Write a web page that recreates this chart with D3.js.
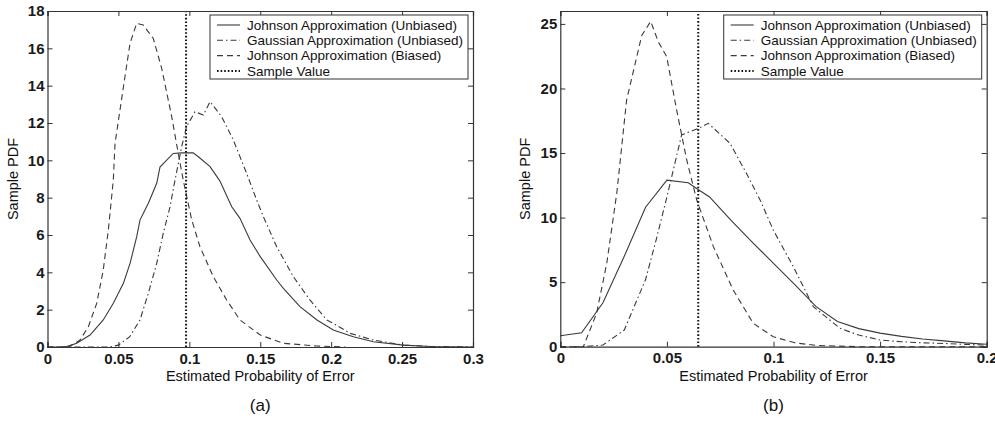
<!DOCTYPE html>
<html>
<head>
<meta charset="utf-8">
<script src="https://cdn.jsdelivr.net/npm/d3@7"></script>
<style>
  body { margin: 0; background: #fff; }
  svg { display: block; font-family: "Liberation Sans", Arial, Helvetica, sans-serif; }
</style>
</head>
<body>
<svg id="chart" width="995" height="431"></svg>
<script>
// ---- data ----
// panel (a)
var aJohnsonX = [0, 0.01, 0.0135, 0.0206, 0.03, 0.0393, 0.0464, 0.0535, 0.0582, 0.0629, 0.0652, 0.0711, 0.077, 0.0793, 0.0886, 0.0945, 0.1027, 0.107, 0.1146, 0.1215, 0.1299, 0.1357, 0.1428, 0.15, 0.1616, 0.1663, 0.178, 0.19, 0.2015, 0.2156, 0.2297, 0.251, 0.27, 0.3];
var aJohnsonY = [0, 0, 0.02, 0.2, 0.64, 1.45, 2.34, 3.41, 4.48, 5.91, 6.8, 7.7, 8.77, 9.64, 10.37, 10.4, 10.4, 10.15, 9.66, 8.9, 7.51, 6.89, 5.73, 4.84, 3.59, 3.14, 2.16, 1.45, 0.91, 0.55, 0.28, 0.1, 0.03, 0];
var aGaussX = [0, 0.044, 0.05, 0.058, 0.0652, 0.0711, 0.077, 0.0816, 0.0864, 0.0899, 0.0946, 0.098, 0.104, 0.1099, 0.1146, 0.1228, 0.131, 0.1404, 0.1475, 0.1522, 0.1616, 0.1733, 0.185, 0.1969, 0.2015, 0.2134, 0.2297, 0.251, 0.27, 0.3];
var aGaussY = [0, 0, 0.1, 0.55, 1.45, 2.88, 4.48, 6.09, 7.51, 8.94, 10.73, 11.8, 12.6, 12.43, 13.14, 12.34, 11.09, 9.3, 7.87, 6.98, 5.37, 3.77, 2.52, 1.45, 1.27, 0.73, 0.37, 0.1, 0.03, 0];
var aBiasedX = [0, 0.015, 0.0229, 0.0288, 0.0347, 0.0393, 0.0429, 0.0464, 0.0476, 0.0546, 0.0582, 0.0629, 0.0675, 0.0746, 0.0805, 0.0876, 0.0922, 0.0957, 0.1017, 0.1075, 0.1169, 0.1263, 0.1357, 0.15, 0.1663, 0.19, 0.21];
var aBiasedY = [0, 0, 0.37, 1.09, 2.34, 4.12, 6.27, 8.94, 10.9, 14.48, 16.27, 17.34, 17.25, 16.53, 14.93, 12.33, 10.37, 8.94, 6.8, 5.37, 3.77, 2.52, 1.45, 0.64, 0.2, 0.05, 0];
var aSample = 0.0977;

// panel (b)
var bJohnsonX = [0, 0.01, 0.02, 0.03, 0.04, 0.05, 0.06, 0.065, 0.07, 0.08, 0.09, 0.1, 0.11, 0.12, 0.13, 0.14, 0.15, 0.16, 0.17, 0.18, 0.19, 0.2];
var bJohnsonY = [0.85, 1.08, 3.4, 7.0, 10.8, 12.9, 12.7, 12.14, 11.6, 9.8, 8.1, 6.46, 4.8, 3.1, 1.95, 1.4, 1.05, 0.8, 0.6, 0.45, 0.3, 0.19];
var bGaussX = [0, 0.01, 0.02, 0.03, 0.04, 0.045, 0.05, 0.0569, 0.0647, 0.0694, 0.0796, 0.0874, 0.0937, 0.1, 0.1093, 0.1187, 0.1312, 0.14, 0.15, 0.16, 0.17, 0.18, 0.19, 0.2];
var bGaussY = [0, 0, 0.13, 1.29, 5.2, 8.3, 11.6, 16.4, 16.9, 17.3, 15.75, 13.4, 11.37, 9.0, 6.2, 3.1, 1.42, 0.9, 0.52, 0.38, 0.3, 0.25, 0.18, 0.12];
var bBiasedX = [0, 0.0108, 0.017, 0.0218, 0.0265, 0.0311, 0.0382, 0.0424, 0.046, 0.0499, 0.0546, 0.0593, 0.064, 0.0718, 0.0811, 0.0905, 0.0999, 0.11, 0.12, 0.13, 0.14, 0.2];
var bBiasedY = [0, 0, 2.58, 6.46, 11.9, 19.1, 24.1, 25.2, 23.6, 22.46, 18.3, 14.46, 11.36, 7.75, 4.39, 1.81, 0.77, 0.3, 0.1, 0.05, 0, 0];
var bSample = 0.0647;

var aXTicks = [0, 0.05, 0.1, 0.15, 0.2, 0.25, 0.3];
var aYTicks = [0, 2, 4, 6, 8, 10, 12, 14, 16, 18];
var bXTicks = [0, 0.05, 0.1, 0.15, 0.2];
var bYTicks = [0, 5, 10, 15, 20, 25];

var legendNames = ["Johnson Approximation (Unbiased)", "Gaussian Approximation (Unbiased)", "Johnson Approximation (Biased)", "Sample Value"];

var svg = d3.select("#chart");
var lineColor = "#3a3a3a";
var dashes = ["none", "6,3,1.5,3", "6,4", "1.6,2"];

function drawPanel(p) {
  var g = svg.append("g").attr("transform", "translate(" + p.left + "," + p.top + ")");
  var w = p.width, h = p.height;
  var x = d3.scaleLinear().domain(p.xDomain).range([0, w]);
  var y = d3.scaleLinear().domain(p.yDomain).range([h, 0]);

  // curves
  var line = d3.line().x(function (d) { return x(d[0]); }).y(function (d) { return y(d[1]); });
  p.series.forEach(function (s, i) {
    var pts = s.x.map(function (v, k) { return [v, s.y[k]]; });
    g.append("path")
      .datum(pts)
      .attr("d", line)
      .attr("fill", "none")
      .attr("stroke", lineColor)
      .attr("stroke-width", 1.1)
      .attr("stroke-dasharray", dashes[i]);
  });

  // sample value line
  g.append("line")
    .attr("x1", x(p.sample)).attr("x2", x(p.sample))
    .attr("y1", y(p.yDomain[0])).attr("y2", y(p.yDomain[1]))
    .attr("stroke", "#111")
    .attr("stroke-width", 2)
    .attr("stroke-dasharray", dashes[3]);

  // axes, MATLAB style with inward ticks on all sides
  var fmt = function (d) { return d3.format("~g")(d); };
  g.append("g").attr("transform", "translate(0," + h + ")")
    .call(d3.axisBottom(x).tickValues(p.xTicks).tickSize(-5).tickPadding(6).tickFormat(fmt));
  g.append("g")
    .call(d3.axisTop(x).tickValues(p.xTicks).tickSize(-5).tickFormat(""));
  g.append("g")
    .call(d3.axisLeft(y).tickValues(p.yTicks).tickSize(-5).tickPadding(3).tickFormat(fmt));
  g.append("g").attr("transform", "translate(" + w + ",0)")
    .call(d3.axisRight(y).tickValues(p.yTicks).tickSize(-5).tickFormat(""));
  g.selectAll(".domain").attr("stroke", "#333").attr("stroke-width", 1.2);
  g.selectAll(".tick line").attr("stroke", "#333");
  g.selectAll(".tick text").attr("font-size", 15).attr("font-weight", "bold").attr("fill", "#1a1a1a")
    .attr("font-family", "'Liberation Sans', Arial, sans-serif");

  // axis titles
  g.append("text")
    .attr("x", w / 2).attr("y", h + 34)
    .attr("text-anchor", "middle").attr("font-size", 14.5).attr("fill", "#111")
    .text("Estimated Probability of Error");
  g.append("text")
    .attr("transform", "translate(" + p.yTitleX + "," + (h / 2) + ") rotate(-90)")
    .attr("text-anchor", "middle").attr("font-size", 14.5).attr("fill", "#111")
    .text("Sample PDF");
  g.append("text")
    .attr("x", w / 2).attr("y", h + 64)
    .attr("text-anchor", "middle").attr("font-size", 17).attr("fill", "#111")
    .text(p.label);

  // legend
  var lw = 258, lh = 64;
  var lg = g.append("g").attr("transform", "translate(" + (w - 5 - lw) + ",4)");
  lg.append("rect").attr("width", lw).attr("height", lh)
    .attr("fill", "#fff").attr("stroke", "#333").attr("stroke-width", 1);
  legendNames.forEach(function (name, i) {
    var ly = 10 + i * 15.3;
    lg.append("line")
      .attr("x1", 7).attr("x2", 30).attr("y1", ly).attr("y2", ly)
      .attr("stroke", i == 3 ? "#111" : lineColor)
      .attr("stroke-width", i == 3 ? 2 : 1.1)
      .attr("stroke-dasharray", dashes[i]);
    lg.append("text")
      .attr("x", 37).attr("y", ly).attr("dy", "0.36em")
      .attr("font-size", 13.5).attr("fill", "#111")
      .text(name);
  });
}

drawPanel({
  left: 47.5, top: 11, width: 425.5, height: 336,
  xDomain: [0, 0.3], yDomain: [0, 18],
  xTicks: aXTicks, yTicks: aYTicks, yTitleX: -30,
  sample: aSample, label: "(a)",
  series: [{ x: aJohnsonX, y: aJohnsonY }, { x: aGaussX, y: aGaussY }, { x: aBiasedX, y: aBiasedY }]
});

drawPanel({
  left: 560.3, top: 11, width: 426.4, height: 335.7,
  xDomain: [0, 0.2], yDomain: [0, 26],
  xTicks: bXTicks, yTicks: bYTicks, yTitleX: -30,
  sample: bSample, label: "(b)",
  series: [{ x: bJohnsonX, y: bJohnsonY }, { x: bGaussX, y: bGaussY }, { x: bBiasedX, y: bBiasedY }]
});
</script>
</body>
</html>
